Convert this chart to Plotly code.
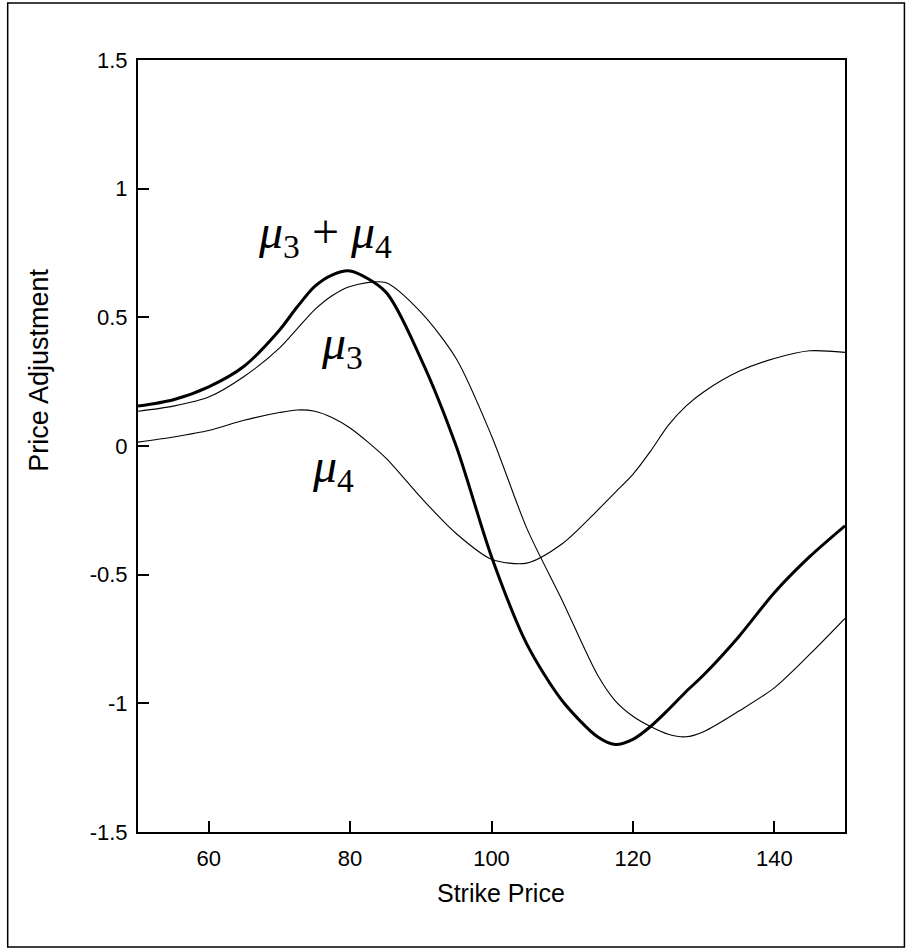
import plotly.graph_objects as go

# Data
strike = [50, 55, 60, 65, 70, 72.5, 75, 77.5, 80, 85, 90, 95, 100, 105, 110, 115, 117.5, 120, 122.5, 125, 127.5, 130, 135, 140, 145, 150]

mu_sum = [0.155, 0.18, 0.23, 0.31, 0.45, 0.54, 0.62, 0.665, 0.68, 0.60, 0.34, 0.0, -0.43, -0.77, -0.99, -1.13, -1.16, -1.14,
          -1.09, -1.025, -0.955, -0.89, -0.74, -0.57, -0.43, -0.31]

mu3 = [0.135, 0.155, 0.19, 0.27, 0.38, 0.455, 0.53, 0.585, 0.62, 0.635, 0.52, 0.34, 0.04, -0.32, -0.60, -0.89, -0.99, -1.05,
       -1.09, -1.12, -1.13, -1.11, -1.03, -0.94, -0.81, -0.67]

mu4 = [0.015, 0.035, 0.06, 0.10, 0.13, 0.14, 0.135, 0.11, 0.07, -0.045, -0.20, -0.34, -0.44, -0.455, -0.38, -0.25, -0.18,
       -0.11, -0.02, 0.08, 0.155, 0.21, 0.29, 0.34, 0.37, 0.364]

x_ticks = [60, 80, 100, 120, 140]
y_ticks = [-1.5, -1, -0.5, 0, 0.5, 1, 1.5]
y_tick_text = ["-1.5", "-1", "-0.5", "0", "0.5", "1", "1.5"]

x_title = "Strike Price"
y_title = "Price Adjustment"

labels = ["<i>μ</i><sub>3</sub> + <i>μ</i><sub>4</sub>", "<i>μ</i><sub>3</sub>", "<i>μ</i><sub>4</sub>"]
label_x = [76.4, 78.8, 77.6]
label_y = [0.82, 0.39, -0.09]

fig = go.Figure()
fig.add_trace(go.Scatter(x=strike, y=mu4, mode="lines", line=dict(color="black", width=1.1, shape="spline", smoothing=0.8), showlegend=False))
fig.add_trace(go.Scatter(x=strike, y=mu3, mode="lines", line=dict(color="black", width=1.1, shape="spline", smoothing=0.8), showlegend=False))
fig.add_trace(go.Scatter(x=strike, y=mu_sum, mode="lines", line=dict(color="black", width=3, shape="spline", smoothing=0.8), showlegend=False))

for t, lx, ly in zip(labels, label_x, label_y):
    fig.add_annotation(x=lx, y=ly, text=t, showarrow=False, xref="x", yref="y",
                       font=dict(family="Liberation Serif, Times New Roman, serif", size=48, color="black"))

L, R, T, B = 137.5, 845.5, 60, 832
W, H = 911, 951
pw, ph = R - L, B - T
# outer frame
fig.add_shape(type="rect", xref="paper", yref="paper",
              x0=(7 - L) / pw, x1=(905 - L) / pw, y0=(B - 947) / ph, y1=(B - 3) / ph,
              line=dict(color="black", width=1.5), fillcolor="rgba(0,0,0,0)", layer="below")

tick_font = dict(family="Liberation Sans, Arial, sans-serif", size=22, color="black")
title_font = dict(family="Liberation Sans, Arial, sans-serif", size=25, color="black")

# axis titles (placed as in the reference)
fig.add_annotation(x=(501 - L) / pw, y=(B - 893) / ph, xref="paper", yref="paper", text=x_title,
                   showarrow=False, font=title_font, xanchor="center", yanchor="middle")
fig.add_annotation(x=(38 - L) / pw, y=(B - 370) / ph, xref="paper", yref="paper", text=y_title,
                   showarrow=False, textangle=-90, font=dict(title_font, size=27), xanchor="center", yanchor="middle")

fig.update_layout(
    width=W, height=H,
    margin=dict(l=L, r=W - R, t=T, b=H - B, pad=0),
    paper_bgcolor="white", plot_bgcolor="white",
    font=tick_font,
    xaxis=dict(range=[50, 150], tickvals=x_ticks, ticks="inside", ticklen=11, tickwidth=1.5, tickcolor="black",
               showline=True, linecolor="black", linewidth=2, mirror=True, showgrid=False, zeroline=False,
               ticklabelstandoff=6, tickfont=tick_font),
    yaxis=dict(range=[-1.5, 1.5], tickvals=y_ticks, ticktext=y_tick_text, ticks="inside", ticklen=11, tickwidth=1.5,
               tickcolor="black", showline=True, linecolor="black", linewidth=2, mirror=True, showgrid=False,
               zeroline=False, ticklabelstandoff=4, tickfont=tick_font),
)

fig.write_html("out.html", post_script="document.body.style.margin='0';", config={"displayModeBar": False})
